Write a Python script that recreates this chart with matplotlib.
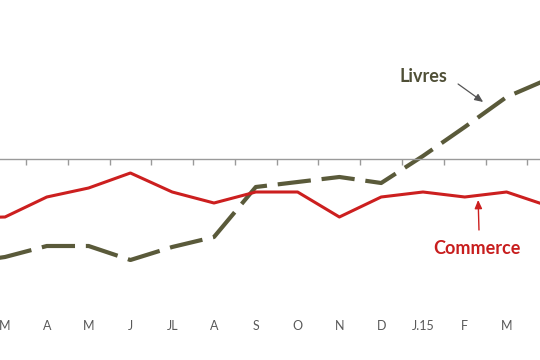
import numpy as np
import matplotlib
matplotlib.use("Agg")
import matplotlib.pyplot as plt

# monthly series, index 0 = M (March), -1 and 13 sit just outside the view
months = ["M", "A", "M", "J", "JL", "A", "S", "O", "N", "D", "J.15", "F", "M"]
x_idx = list(range(-1, 14))
commerce = [-5.9, -5.8, -3.8, -2.9, -1.4, -3.3, -4.4, -3.3, -3.3, -5.8, -3.8, -3.3, -3.8, -3.3, -4.7]
livres = [-10.4, -9.8, -8.7, -8.7, -10.1, -8.8, -7.8, -2.8, -2.3, -1.8, -2.4, 0.3, 3.2, 6.2, 8.0]

red = "#cc1f1f"
olive = "#5a5a3a"
grey_txt = "#595959"

plt.rcParams["font.family"] = ["Lato", "DejaVu Sans"]

fig = plt.figure(figsize=(5.4, 3.6), dpi=100)
ax = fig.add_axes([0, 48 / 360, 1, 312 / 360])

ax.plot(x_idx, livres, color=olive, lw=3, dashes=(8, 2.6), solid_capstyle="butt")
ax.plot(x_idx, commerce, color=red, lw=2.2)

for s in ["top", "right", "left"]:
    ax.spines[s].set_visible(False)
ax.spines["bottom"].set_position(("data", 0))
ax.spines["bottom"].set_color("#9a9a9a")
ax.spines["bottom"].set_linewidth(1)
ax.set_yticks([])
ax.set_xticks([])
ax.set_xticks(np.arange(-0.5, 13.5, 1), minor=True)
ax.tick_params(axis="x", which="minor", direction="out", length=4, width=1, color="#9a9a9a")

secax = ax.secondary_xaxis("bottom")
secax.set_xticks(range(len(months)), months)
secax.tick_params(length=0, pad=6, labelsize=9, labelcolor=grey_txt)
secax.spines["bottom"].set_visible(False)

# limits after the ticks, set_xticks widens the view otherwise
ax.set_xlim(-0.12, 12.8)
ax.set_ylim(-15.3, 15.9)

ax.text(10.0, 8.2, "Livres", color="#4f4f36", fontsize=13, fontweight="bold",
        ha="center", va="center")
ax.annotate("", xy=(11.44, 5.7), xytext=(10.84, 7.5),
            arrowprops=dict(arrowstyle="-|>,head_length=0.5,head_width=0.22", color="#555555",
                            lw=0.9, shrinkA=0, shrinkB=0))
ax.text(11.29, -8.9, "Commerce", color="#c81e1e", fontsize=13, fontweight="bold",
        ha="center", va="center")
ax.annotate("", xy=(11.32, -4.1), xytext=(11.34, -7.1),
            arrowprops=dict(arrowstyle="-|>,head_length=0.5,head_width=0.22", color=red,
                            lw=1.0, shrinkA=0, shrinkB=0))

fig.savefig("out.png", dpi=100)
